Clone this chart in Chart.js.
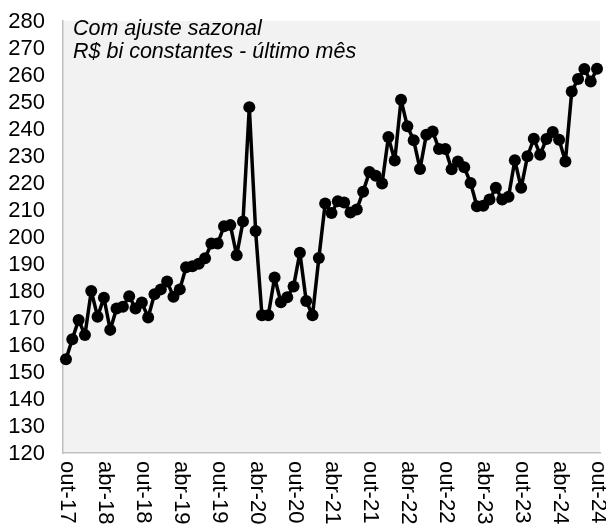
<!DOCTYPE html>
<html>
<head>
<meta charset="utf-8">
<script src="https://cdn.jsdelivr.net/npm/chart.js@4"></script>
<style>
  html, body { margin: 0; padding: 0; background: #fff; }
  canvas { display: block; }
</style>
</head>
<body>
<canvas id="chart" width="606" height="529"></canvas>
<script>
// tick labels, one every 6 months (out-17 .. out-24)
const tickLabels = ['out-17', 'abr-18', 'out-18', 'abr-19', 'out-19', 'abr-20', 'out-20', 'abr-21',
  'out-21', 'abr-22', 'out-22', 'abr-23', 'out-23', 'abr-24', 'out-24'];

// monthly values, R$ bi (oct 2017 .. oct 2024)
const values = [
  154.7, 162.1, 169.3, 163.7, 180.0, 170.5, 177.5, 165.6, 173.5, 174.2, 178.1, 173.5,
  175.7, 170.2, 178.8, 180.6, 183.5, 177.9, 180.6, 188.8, 189.2, 190.1, 192.1, 197.6,
  197.6, 204.0, 204.4, 193.2, 205.7, 248.1, 202.2, 171.0, 171.0, 185.0, 175.8, 177.7,
  181.7, 194.2, 176.3, 171.0, 192.2, 212.4, 208.9, 213.2, 212.8, 209.1, 210.2, 216.8,
  224.1, 222.7, 219.8, 237.0, 228.3, 250.8, 241.0, 235.8, 225.2, 237.9, 239.1, 232.6,
  232.6, 225.1, 228.0, 225.8, 220.0, 211.4, 211.6, 213.9, 218.2, 213.9, 214.9, 228.4,
  218.2, 229.9, 236.4, 230.5, 236.3, 238.9, 236.0, 228.0, 253.9, 258.5, 262.2, 257.6,
  262.3
];

const noteLines = ['Com ajuste sazonal', 'R$ bi constantes - último mês'];

const font = '"Liberation Sans", Arial, sans-serif';

const plotBg = {
  id: 'plotBg',
  beforeDraw(chart) {
    const { ctx, chartArea: a } = chart;
    ctx.save();
    ctx.fillStyle = '#f2f2f2';
    ctx.fillRect(a.left, a.top, a.right - a.left, a.bottom - a.top);
    ctx.restore();
  }
};

// axis labels drawn by hand so the x labels read top to bottom
const axisText = {
  id: 'axisText',
  afterDraw(chart) {
    const { ctx } = chart;
    const xs = chart.scales.x, ys = chart.scales.y;
    ctx.save();
    ctx.fillStyle = '#000';

    ctx.font = '22px ' + font;
    ctx.textAlign = 'right';
    ctx.textBaseline = 'middle';
    ys.ticks.forEach(t => {
      ctx.fillText(String(t.value), ys.right - 18, ys.getPixelForValue(t.value) + 1);
    });

    ctx.textAlign = 'left';
    xs.ticks.forEach((t, i) => {
      ctx.save();
      ctx.translate(xs.getPixelForValue(t.value) + 1, xs.top + 8);
      ctx.rotate(Math.PI / 2);
      ctx.fillText(tickLabels[i], 0, 0);
      ctx.restore();
    });

    ctx.font = 'italic 21.5px ' + font;
    ctx.textBaseline = 'alphabetic';
    noteLines.forEach((line, i) => {
      ctx.fillText(line, chart.chartArea.left + 10, 35 + i * 23);
    });
    ctx.restore();
  }
};

new Chart(document.getElementById('chart'), {
  type: 'line',
  data: {
    datasets: [{
      data: values.map((v, i) => ({ x: i, y: v })),
      borderColor: '#000',
      backgroundColor: '#000',
      borderWidth: 3.5,
      borderJoinStyle: 'round',
      borderCapStyle: 'round',
      pointRadius: 6,
      pointBorderWidth: 0,
      pointBackgroundColor: '#000',
      tension: 0,
      clip: false
    }]
  },
  options: {
    responsive: false,
    animation: false,
    events: [],
    layout: { padding: { top: 21, right: 5, left: 0, bottom: 0 } },
    plugins: { legend: { display: false }, tooltip: { enabled: false } },
    scales: {
      x: {
        type: 'linear',
        min: -0.47,
        max: 84.47,
        afterBuildTicks: s => { s.ticks = tickLabels.map((_, i) => ({ value: i * 6 })); },
        afterFit: s => { s.height = 76; },
        ticks: { display: false },
        grid: { display: false },
        border: { display: true, color: '#bfbfbf', width: 1.5 }
      },
      y: {
        min: 120,
        max: 280,
        afterFit: s => { s.width = 63; },
        ticks: { display: false, stepSize: 10 },
        grid: { display: false },
        border: { display: true, color: '#bfbfbf', width: 1.5 }
      }
    }
  },
  plugins: [plotBg, axisText]
});
</script>
</body>
</html>
